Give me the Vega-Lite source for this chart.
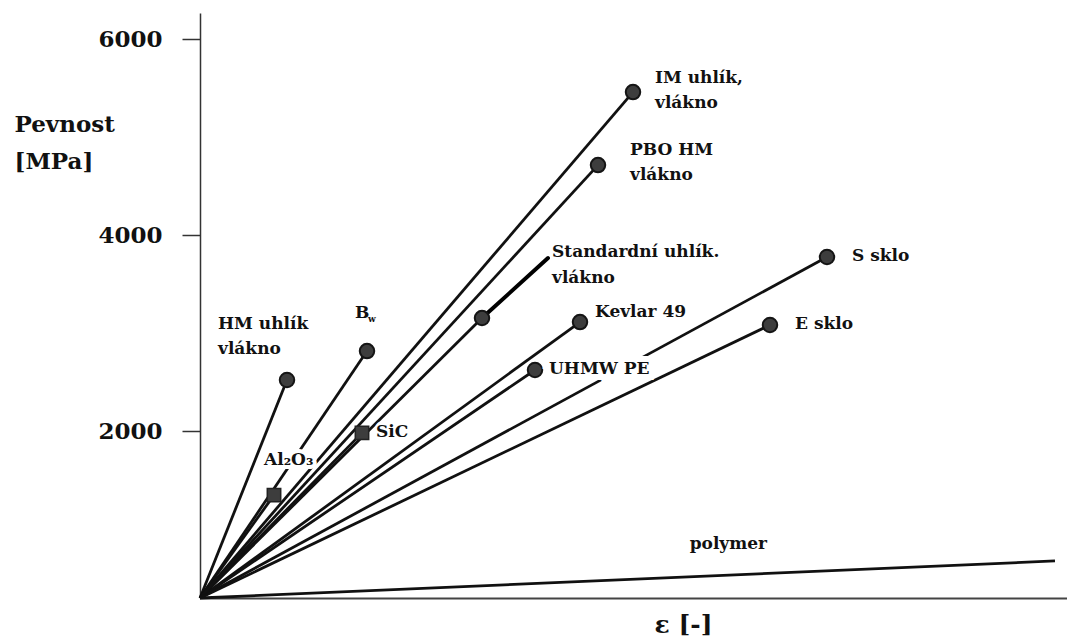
{
  "$schema": "https://vega.github.io/schema/vega-lite/v6.json",
  "width": 867,
  "height": 585,
  "autosize": {"type": "none"},
  "padding": {"left": 200, "top": 13, "right": 0, "bottom": 41},
  "background": "white",
  "config": {"view": {"stroke": null}, "font": "DejaVu Serif"},
  "datasets": {
    "fibers": [
      {"material": "HM", "label": "HM uhlík\nvlákno", "eps": 0.87, "sigma": 2525},
      {"material": "Bw", "label": "B", "eps": 1.67, "sigma": 2820},
      {"material": "Al2O3", "label": "Al₂O₃", "eps": 0.74, "sigma": 1350},
      {"material": "SiC", "label": "SiC", "eps": 1.62, "sigma": 1985},
      {"material": "Standard", "label": "Standardní uhlík.\nvlákno", "eps": 2.82, "sigma": 3157},
      {"material": "Kevlar", "label": "Kevlar 49", "eps": 3.80, "sigma": 3116},
      {"material": "UHMW", "label": "UHMW PE", "eps": 3.35, "sigma": 2627},
      {"material": "IM", "label": "IM uhlík,\nvlákno", "eps": 4.33, "sigma": 5463},
      {"material": "PBO", "label": "PBO HM\nvlákno", "eps": 3.98, "sigma": 4718},
      {"material": "S", "label": "S sklo", "eps": 6.27, "sigma": 3780},
      {"material": "E", "label": "E sklo", "eps": 5.70, "sigma": 3086},
      {"material": "polymer", "label": "polymer", "eps": 8.55, "sigma": 678}
    ],
    "leader": [
      {"eps": 2.82, "sigma": 3157, "eps2": 3.48, "sigma2": 3769}
    ]
  },
  "data": {"name": "fibers"},
  "encoding": {
    "x": {
      "field": "eps", "type": "quantitative",
      "scale": {"domain": [0, 8.67], "nice": false, "zero": false},
      "axis": {
        "title": "ε [-]", "ticks": false, "labels": false, "grid": false,
        "domainColor": "#444", "domainWidth": 2,
        "titleFont": "DejaVu Serif", "titleFontWeight": "bold", "titleFontSize": 25,
        "titleColor": "#111", "titleX": 483, "titleY": 34, "titleAlign": "center",
        "titleBaseline": "alphabetic"
      }
    },
    "y": {
      "field": "sigma", "type": "quantitative",
      "scale": {"domain": [300, 6270], "nice": false, "zero": false},
      "axis": {
        "title": ["Pevnost", "[MPa]"], "values": [2000, 4000, 6000], "format": "d",
        "grid": false, "domainColor": "#333", "domainWidth": 1.5,
        "tickColor": "#333", "tickWidth": 1.5, "tickSize": 18,
        "labelFont": "DejaVu Serif", "labelFontWeight": "bold", "labelFontSize": 23,
        "labelColor": "#111", "labelPadding": 20, "labelBaseline": "middle",
        "titleFont": "DejaVu Serif", "titleFontWeight": "bold", "titleFontSize": 23,
        "titleColor": "#111", "titleAngle": 0, "titleAlign": "left", "titleBaseline": "alphabetic",
        "titleX": -186, "titleY": 118, "titleLineHeight": 37
      }
    }
  },
  "layer": [
    {
      "mark": {"type": "rule", "color": "#111", "strokeWidth": 2.8},
      "encoding": {"x2": {"datum": 0}, "y2": {"datum": 300}}
    },
    {
      "data": {"name": "leader"},
      "mark": {"type": "rule", "color": "#000", "strokeWidth": 4, "strokeCap": "round"},
      "encoding": {"x2": {"field": "eps2"}, "y2": {"field": "sigma2"}}
    },
    {
      "transform": [{"filter": "datum.material !== 'polymer' && datum.material !== 'Al2O3' && datum.material !== 'SiC'"}],
      "mark": {"type": "point", "shape": "circle", "filled": true, "size": 210, "fill": "#3d3d3d", "stroke": "#151515", "strokeWidth": 2, "opacity": 1}
    },
    {
      "transform": [{"filter": "datum.material === 'Al2O3' || datum.material === 'SiC'"}],
      "mark": {"type": "point", "shape": "square", "filled": true, "size": 180, "fill": "#3d3d3d", "stroke": "#222", "strokeWidth": 1.5, "opacity": 1}
    },
    {
      "transform": [{"filter": "datum.material === 'Al2O3'"}],
      "mark": {"type": "text", "align": "left", "baseline": "alphabetic", "dx": -10, "dy": -30, "font": "DejaVu Serif", "fontWeight": "bold", "fontSize": 17, "fill": "white", "stroke": "white", "strokeWidth": 8},
      "encoding": {"text": {"field": "label"}}
    },
    {
      "transform": [{"filter": "datum.material === 'SiC'"}],
      "mark": {"type": "text", "align": "left", "baseline": "alphabetic", "dx": 16, "dy": 4, "font": "DejaVu Serif", "fontWeight": "bold", "fontSize": 17, "fill": "white", "stroke": "white", "strokeWidth": 8},
      "encoding": {"text": {"field": "label"}}
    },
    {
      "transform": [{"filter": "datum.material === 'UHMW'"}],
      "mark": {"type": "text", "align": "left", "baseline": "alphabetic", "dx": 13, "dy": 4, "font": "DejaVu Serif", "fontWeight": "bold", "fontSize": 17, "fill": "white", "stroke": "white", "strokeWidth": 12},
      "encoding": {"text": {"field": "label"}}
    },
    {
      "transform": [{"filter": "datum.material === 'IM'"}],
      "mark": {"type": "text", "align": "left", "baseline": "alphabetic", "dx": 22, "dy": -9, "lineBreak": "\n", "lineHeight": 25, "font": "DejaVu Serif", "fontWeight": "bold", "fontSize": 17, "color": "#111"},
      "encoding": {"text": {"field": "label"}}
    },
    {
      "transform": [{"filter": "datum.material === 'PBO'"}],
      "mark": {"type": "text", "align": "left", "baseline": "alphabetic", "dx": 32, "dy": -10, "lineBreak": "\n", "lineHeight": 25, "font": "DejaVu Serif", "fontWeight": "bold", "fontSize": 17, "color": "#111"},
      "encoding": {"text": {"field": "label"}}
    },
    {
      "transform": [{"filter": "datum.material === 'Standard'"}],
      "mark": {"type": "text", "align": "left", "baseline": "alphabetic", "dx": 70, "dy": -61, "lineBreak": "\n", "lineHeight": 26, "font": "DejaVu Serif", "fontWeight": "bold", "fontSize": 17, "color": "#111"},
      "encoding": {"text": {"field": "label"}}
    },
    {
      "transform": [{"filter": "datum.material === 'Kevlar'"}],
      "mark": {"type": "text", "align": "left", "baseline": "alphabetic", "dx": 15, "dy": -5, "font": "DejaVu Serif", "fontWeight": "bold", "fontSize": 17, "color": "#111"},
      "encoding": {"text": {"field": "label"}}
    },
    {
      "transform": [{"filter": "datum.material === 'S' || datum.material === 'E'"}],
      "mark": {"type": "text", "align": "left", "baseline": "alphabetic", "dx": 25, "dy": 4, "font": "DejaVu Serif", "fontWeight": "bold", "fontSize": 17, "color": "#111"},
      "encoding": {"text": {"field": "label"}}
    },
    {
      "transform": [{"filter": "datum.material === 'UHMW' || datum.material === 'SiC'"}],
      "mark": {"type": "text", "align": "left", "baseline": "alphabetic", "dx": 14, "dy": 4, "font": "DejaVu Serif", "fontWeight": "bold", "fontSize": 17, "color": "#111"},
      "encoding": {"text": {"field": "label"}}
    },
    {
      "transform": [{"filter": "datum.material === 'Al2O3'"}],
      "mark": {"type": "text", "align": "left", "baseline": "alphabetic", "dx": -10, "dy": -30, "font": "DejaVu Serif", "fontWeight": "bold", "fontSize": 17, "color": "#111"},
      "encoding": {"text": {"field": "label"}}
    },
    {
      "transform": [{"filter": "datum.material === 'Bw'"}],
      "mark": {"type": "text", "align": "left", "baseline": "alphabetic", "dx": -12, "dy": -33, "font": "DejaVu Serif", "fontWeight": "bold", "fontSize": 17, "color": "#111"},
      "encoding": {"text": {"field": "label"}}
    },
    {
      "transform": [{"filter": "datum.material === 'Bw'"}],
      "mark": {"type": "text", "align": "left", "baseline": "alphabetic", "dx": 1, "dy": -29, "font": "DejaVu Serif", "fontWeight": "bold", "fontSize": 9, "color": "#111"},
      "encoding": {"text": {"value": "w"}}
    },
    {
      "transform": [{"filter": "datum.material === 'HM'"}],
      "mark": {"type": "text", "align": "left", "baseline": "alphabetic", "dx": -69, "dy": -51, "lineBreak": "\n", "lineHeight": 25, "font": "DejaVu Serif", "fontWeight": "bold", "fontSize": 17, "color": "#111"},
      "encoding": {"text": {"field": "label"}}
    },
    {
      "transform": [{"filter": "datum.material === 'polymer'"}],
      "mark": {"type": "text", "align": "right", "baseline": "alphabetic", "dx": -288, "dy": -12, "font": "DejaVu Serif", "fontWeight": "bold", "fontSize": 17, "color": "#111"},
      "encoding": {"text": {"field": "label"}}
    }
  ]
}
